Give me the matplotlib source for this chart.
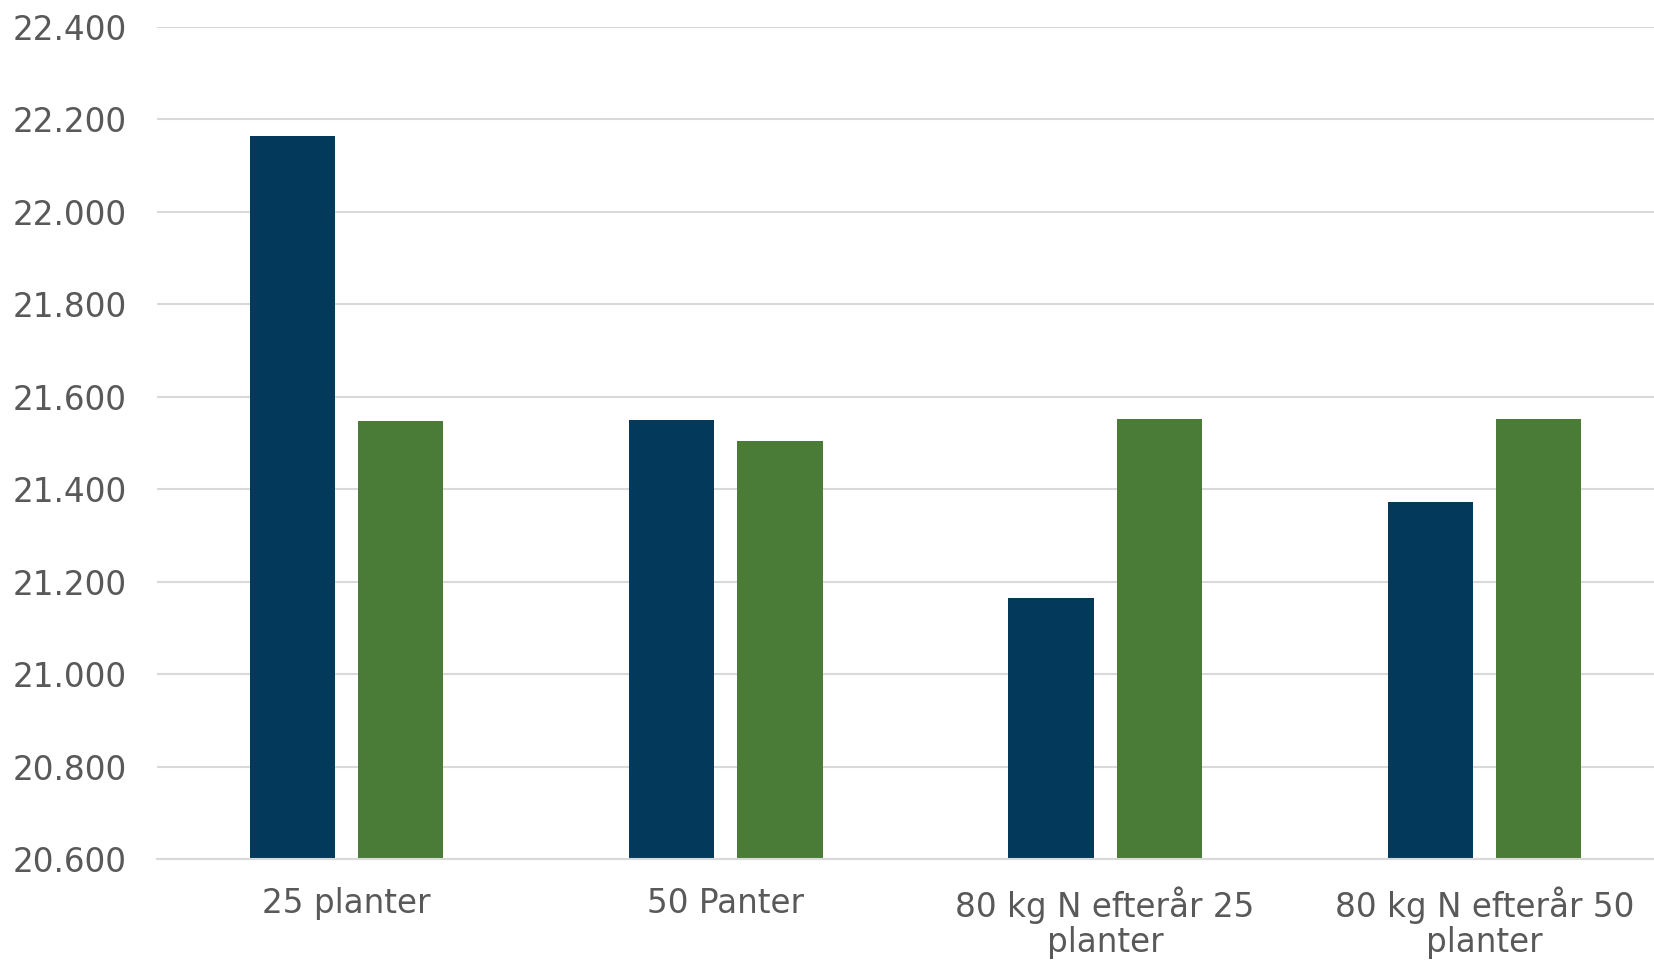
import matplotlib
matplotlib.use("Agg")
import matplotlib.pyplot as plt
import numpy as np

# data
categories = ["25 planter", "50 Panter", "80 kg N efterår 25\nplanter", "80 kg N efterår 50\nplanter"]
serie_blaa = [22.163, 21.550, 21.165, 21.372]
serie_groen = [21.548, 21.504, 21.552, 21.551]
yticks = [20.6, 20.8, 21.0, 21.2, 21.4, 21.6, 21.8, 22.0, 22.2, 22.4]

blaa = "#033A5C"
groen = "#4A7C37"
tekst = "#595959"
grid = "#D9D9D9"

plt.rcParams['font.family'] = ['Verdana', 'DejaVu Sans']

fig = plt.figure(figsize=(16.54, 9.61), dpi=100)
ax = fig.add_axes([157/1654, 1 - 859/961, (1674 - 157)/1654, (859 - 26.7)/961])

x = np.arange(len(categories))
w = 0.225
off = 0.1425
ax.bar(x - off, serie_blaa, width=w, color=blaa, zorder=3)
ax.bar(x + off, serie_groen, width=w, color=groen, zorder=3)

ax.set_xlim(-0.5, len(categories) - 0.5)
ax.set_ylim(20.6, 22.4)
ax.set_yticks(yticks)
ax.set_yticklabels([f"{v:.3f}" for v in yticks])
ax.set_xticks(x)
ax.set_xticklabels(categories, linespacing=1.08)

ax.grid(axis='y', color=grid, linewidth=1.5, zorder=0)
for s in ['top', 'right', 'left']:
    ax.spines[s].set_visible(False)
ax.spines['bottom'].set_color(grid)
ax.spines['bottom'].set_linewidth(1.5)
ax.spines['bottom'].set_zorder(4)

ax.tick_params(axis='y', length=0, pad=22, labelsize=23.5, labelcolor=tekst)
ax.tick_params(axis='x', length=0, pad=20, labelsize=23.5, labelcolor=tekst)

plt.savefig("out.png", dpi=100)
